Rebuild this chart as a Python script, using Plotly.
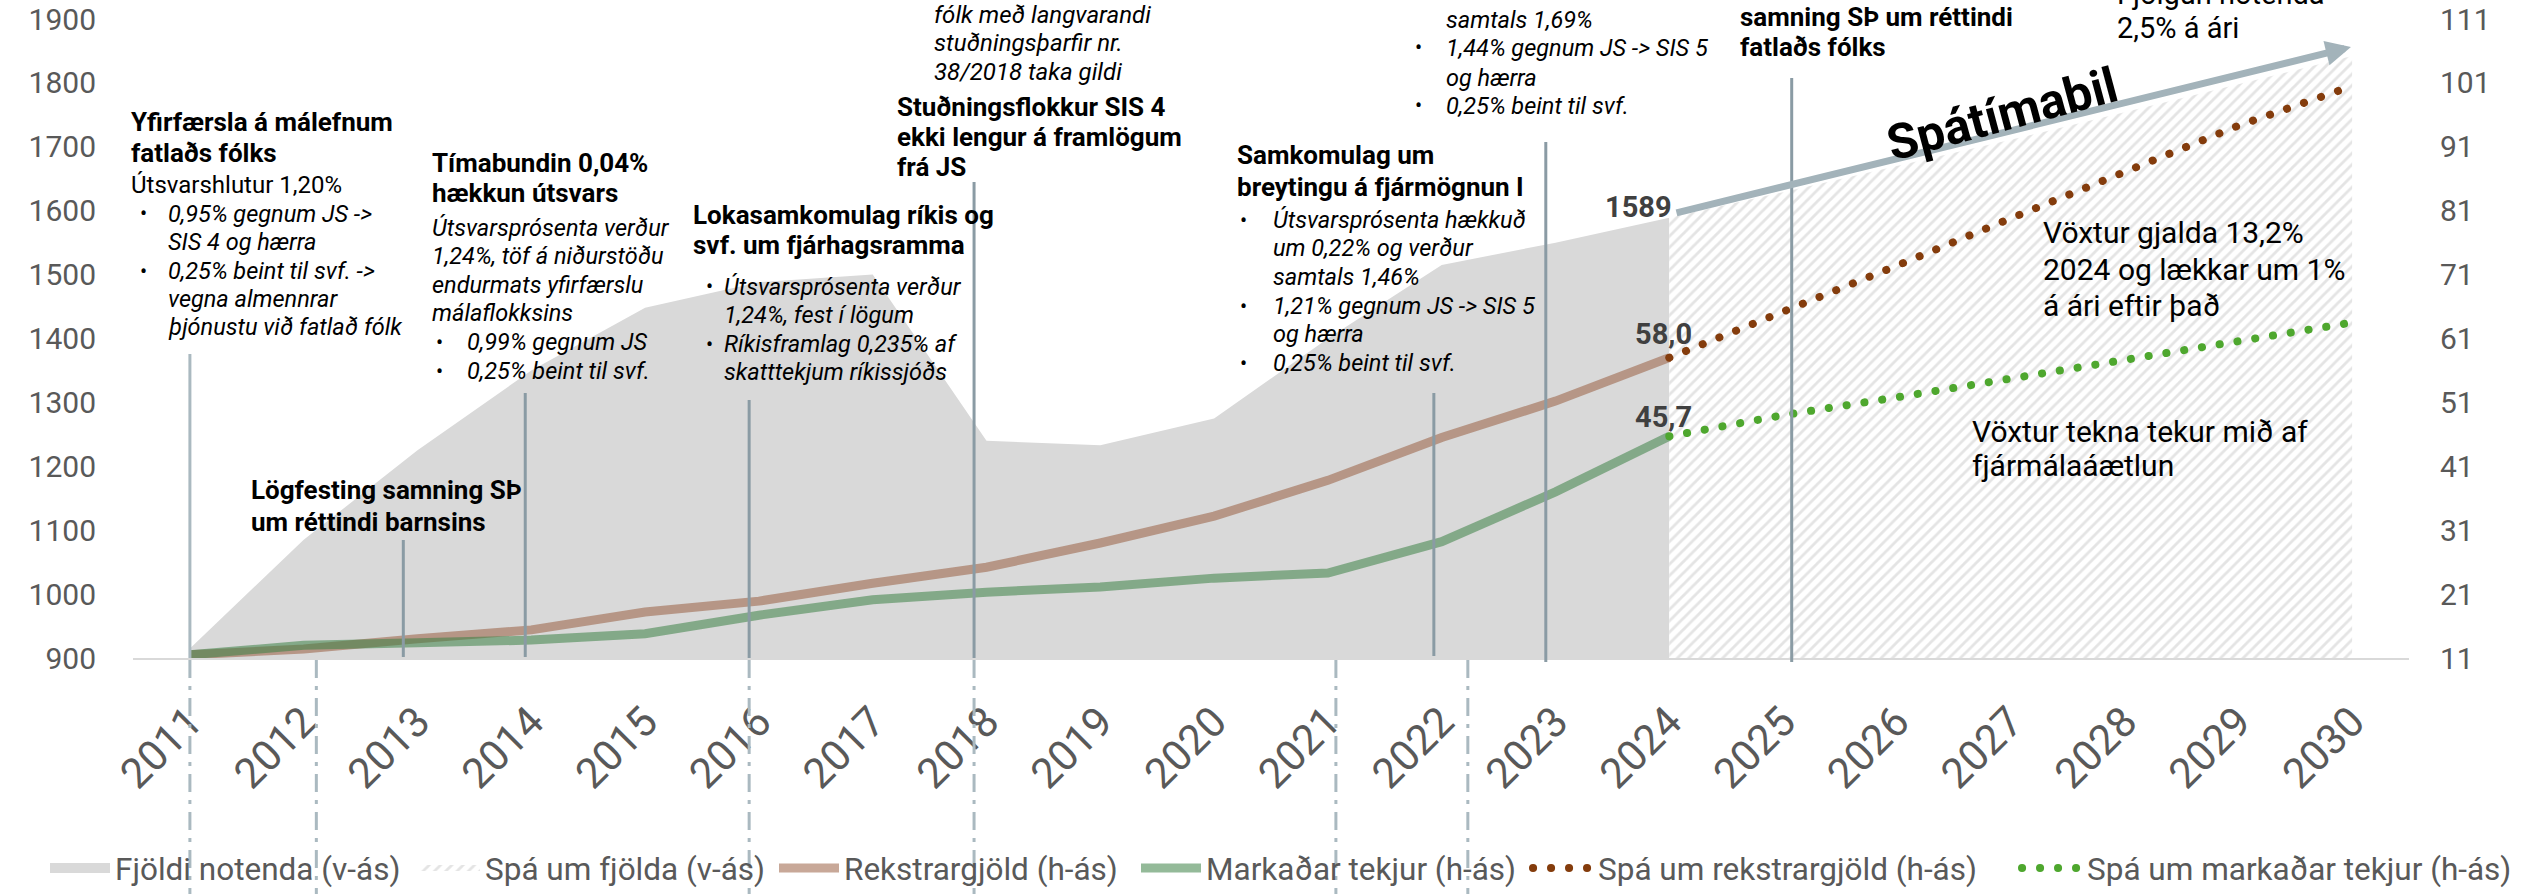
import plotly.graph_objects as go

# ---------------- data ----------------
years_hist = [2011, 2012, 2013, 2014, 2015, 2016, 2017, 2018, 2019, 2020, 2021, 2022, 2023, 2024]
years_fc = [2024, 2025, 2026, 2027, 2028, 2029, 2030]
years_all = list(range(2011, 2031))

users = [915, 1085, 1225, 1350, 1448, 1488, 1500, 1240, 1233, 1275, 1400, 1515, 1550, 1589]
users_fc = [1589, 1629, 1670, 1711, 1754, 1798, 1842]

expenses = [11.5, 12.4, 14.0, 15.4, 18.2, 19.9, 22.7, 25.2, 29.0, 33.2, 38.8, 45.5, 51.2, 58.0]
revenue = [11.5, 13.0, 13.4, 13.8, 14.8, 17.7, 20.1, 21.3, 22.1, 23.5, 24.3, 29.2, 37.0, 45.7]
expenses_fc = [58.0, 65.1, 72.4, 79.8, 87.1, 94.3, 100.5]
revenue_fc = [45.7, 49.0, 51.8, 54.7, 57.7, 60.6, 63.5]

left_ticks = [900, 1000, 1100, 1200, 1300, 1400, 1500, 1600, 1700, 1800, 1900]
right_ticks = [11, 21, 31, 41, 51, 61, 71, 81, 91, 101, 111]

# ---------------- layout constants ----------------
W, H = 2521, 894
PL, PR, PT, PB = 133, 2409, 19, 658
FONT = "Roboto, 'Liberation Sans', Arial, sans-serif"
GRAY_TXT = "#595959"
SOLID = "#8A9BA4"
LIGHT = "#AAB9C0"
AREA_GRAY = "#D9D9D9"


def px(x):
    return (x - PL) / (PR - PL)


def py(y):
    return (PB - y) / (PB - PT)


fig = go.Figure()

fig.add_trace(go.Scatter(
    x=years_hist, y=users, name="Fjöldi notenda (v-ás)", mode="none",
    fill="tozeroy", fillcolor=AREA_GRAY, yaxis="y", hoverinfo="skip", showlegend=False))
# legend entry for the area (box-like symbol)
fig.add_trace(go.Scatter(
    x=[None], y=[None], name="Fjöldi notenda (v-ás)", mode="lines",
    line=dict(color=AREA_GRAY, width=18), yaxis="y", hoverinfo="skip", legend="legend"))
fig.add_trace(go.Scatter(
    x=years_fc, y=users_fc, name="Spá um fjölda (v-ás)", mode="none",
    fill="tozeroy", fillcolor="white",
    fillpattern=dict(shape="/", fgcolor="#C9C9C9", bgcolor="white", size=8, solidity=0.35),
    yaxis="y", hoverinfo="skip", legend="legend2"))
fig.add_trace(go.Scatter(
    x=years_hist, y=expenses, name="Rekstrargjöld (h-ás)", mode="lines",
    line=dict(color="rgba(150,88,58,0.52)", width=9), yaxis="y2", hoverinfo="skip", legend="legend3"))
fig.add_trace(go.Scatter(
    x=years_hist, y=revenue, name="Markaðar tekjur (h-ás)", mode="lines",
    line=dict(color="rgba(60,130,70,0.55)", width=9), yaxis="y2", hoverinfo="skip", legend="legend4"))
fig.add_trace(go.Scatter(
    x=years_fc, y=expenses_fc, name="Spá um rekstrargjöld (h-ás)", mode="lines",
    line=dict(color="#843C0C", width=8, dash="8px,10px"), yaxis="y2", hoverinfo="skip", legend="legend5"))
fig.add_trace(go.Scatter(
    x=years_fc, y=revenue_fc, name="Spá um markaðar tekjur (h-ás)", mode="lines",
    line=dict(color="#4EA72E", width=8, dash="8px,10px"), yaxis="y2", hoverinfo="skip", legend="legend6"))

# ---------------- event lines ----------------
def year_at(xpix):
    return 2011 + (xpix - 186.5) / 113.85

solid_lines = [  # (x pixel, top pixel, bottom pixel, colour)
    (186.5, 354, 658, LIGHT),
    (400, 540, 657, SOLID),
    (522, 393, 657, SOLID),
    (746, 400, 658, SOLID),
    (971, 182, 658, SOLID),
    (1431, 393, 656, SOLID),
    (1543, 142, 662, SOLID),
    (1789, 78, 662, SOLID),
]
dashed_lines = [186.5, 313, 746, 971, 1333, 1465]

for xp, top, bot, col in solid_lines:
    fig.add_shape(type="line", xref="x", yref="paper", x0=year_at(xp), x1=year_at(xp),
                  y0=py(bot), y1=py(top), line=dict(color=col, width=3), layer="above")
for xp in dashed_lines:
    fig.add_shape(type="line", xref="x", yref="paper", x0=year_at(xp), x1=year_at(xp),
                  y0=py(660), y1=py(900), line=dict(color=LIGHT, width=3, dash="18px,8px,4px,8px"),
                  layer="above")

# ---------------- text helpers ----------------
def line_txt(s, x, y, size, kind="r", color="black"):
    if kind == "b":
        s = "<b>" + s + "</b>"
    elif kind == "i":
        s = "<i>" + s + "</i>"
    fig.add_annotation(text=s, x=px(x), y=py(y), xref="paper", yref="paper",
                       xanchor="left", yanchor="middle", showarrow=False,
                       font=dict(family=FONT, size=size, color=color))


def block(lines, x, size, kind):
    for s, y in lines:
        line_txt(s, x, y, size, kind)


IS = 23.5  # italic size
TS = 26    # title size


def bullets(items, xb, xt, size=IS):
    for b, s, y in items:
        if b:
            line_txt("•", xb, y, size * 0.9, "r")
        line_txt(s, xt, y, size, "i")

# A
block([("Yfirfærsla á málefnum", 122), ("fatlaðs fólks", 153)], 129, TS, "b")
line_txt("Útsvarshlutur 1,20%", 129, 185, 24, "r")
bullets([(True, "0,95% gegnum JS ->", 214), (False, "SIS 4 og hærra", 242),
         (True, "0,25% beint til svf. ->", 271), (False, "vegna almennrar", 299),
         (False, "þjónustu við fatlað fólk", 327)], 138, 166)
# B
block([("Tímabundin 0,04%", 163), ("hækkun útsvars", 193)], 430, TS, "b")
block([("Útsvarsprósenta verður", 228), ("1,24%, töf á niðurstöðu", 256),
       ("endurmats yfirfærslu", 285), ("málaflokksins", 313)], 430, IS, "i")
bullets([(True, "0,99% gegnum JS", 342), (True, "0,25% beint til svf.", 371)], 434, 465)
# C
block([("Lokasamkomulag ríkis og", 215), ("svf. um fjárhagsramma", 245)], 691, TS, "b")
bullets([(True, "Útsvarsprósenta verður", 287), (False, "1,24%, fest í lögum", 315),
         (True, "Ríkisframlag 0,235% af", 344), (False, "skatttekjum ríkissjóðs", 372)], 704, 722)
# D
block([("Lögfesting samning SÞ", 490), ("um réttindi barnsins", 522)], 249, TS, "b")
# E
block([("fólk með langvarandi", 15), ("stuðningsþarfir nr.", 43), ("38/2018 taka gildi", 72)], 932, 24, "i")
# F
block([("Stuðningsflokkur SIS 4", 107), ("ekki lengur á framlögum", 137), ("frá JS", 167)], 895, TS, "b")
# G
block([("Samkomulag um", 155), ("breytingu á fjármögnun I", 187)], 1235, TS, "b")
bullets([(True, "Útsvarsprósenta hækkuð", 220), (False, "um 0,22% og verður", 248),
         (False, "samtals 1,46%", 277), (True, "1,21% gegnum JS -> SIS 5", 306),
         (False, "og hærra", 334), (True, "0,25% beint til svf.", 363)], 1238, 1271)
# H
bullets([(False, "samtals 1,69%", 20), (True, "1,44% gegnum JS -> SIS 5", 48),
         (False, "og hærra", 78), (True, "0,25% beint til svf.", 106)], 1413, 1444)
# I
block([("samning SÞ um réttindi", 17), ("fatlaðs fólks", 47)], 1738, TS, "b")
# J
block([("Fjölgun notenda", -6), ("2,5% á ári", 28)], 2115, 29, "r")
# K
block([("Vöxtur gjalda 13,2%", 233), ("2024 og lækkar um 1%", 269), ("á ári eftir það", 305)], 2041, 30, "r")
# L
block([("Vöxtur tekna tekur mið af", 431), ("fjármálaáætlun", 465)], 1970, 30, "r")

# Forecast arrow + label
fig.add_annotation(x=2029.99, y=1856, ax=2024.05, ay=1596, xref="x", yref="y",
                   axref="x", ayref="y", text="", showarrow=True, arrowhead=2,
                   arrowsize=0.72, arrowwidth=7, arrowcolor="#A3B3BA", standoff=0, startstandoff=0)
fig.add_annotation(text="<b>Spátímabil</b>", x=px(2002), y=py(114), xref="paper", yref="paper",
                   showarrow=False, textangle=-15, xanchor="center", yanchor="middle",
                   font=dict(family=FONT, size=49, color="black"))

# Data labels
def fmt(v):
    return f"{v:.1f}".replace(".", ",")

fig.add_annotation(text=f"<b>{users[-1]}</b>", x=years_hist[-1], y=users[-1], xref="x", yref="y",
                   xanchor="right", yanchor="middle", xshift=5, yshift=11, showarrow=False,
                   font=dict(family=FONT, size=29, color="#404040"))
fig.add_annotation(text=f"<b>{fmt(expenses[-1])}</b>", x=years_hist[-1], y=expenses[-1], xref="x", yref="y2",
                   xanchor="right", yanchor="middle", xshift=25, yshift=24, showarrow=False,
                   font=dict(family=FONT, size=29, color="#404040"))
fig.add_annotation(text=f"<b>{fmt(revenue[-1])}</b>", x=years_hist[-1], y=revenue[-1], xref="x", yref="y2",
                   xanchor="right", yanchor="middle", xshift=25, yshift=19, showarrow=False,
                   font=dict(family=FONT, size=29, color="#404040"))

# one legend box per entry so each entry sits where the reference has it
legend_x = [52, 422, 781, 1143, 1535, 2024]
legend_names = ["legend", "legend2", "legend3", "legend4", "legend5", "legend6"]
legends = {}
for name, xs in zip(legend_names, legend_x):
    legends[name] = dict(orientation="h", x=px(xs - 7), xanchor="left", y=py(868), yanchor="middle",
                         font=dict(family=FONT, size=31.5, color=GRAY_TXT), bgcolor="rgba(0,0,0,0)",
                         itemwidth=60)

fig.update_layout(
    width=W, height=H, autosize=False,
    margin=dict(l=PL, r=W - PR, t=PT, b=H - PB, pad=0, autoexpand=False),
    paper_bgcolor="white", plot_bgcolor="white",
    font=dict(family=FONT, color=GRAY_TXT),
    xaxis=dict(range=[2010.5, 2030.5], tickmode="array", tickvals=years_all,
               ticktext=[str(y) for y in years_all], tickangle=-45,
               tickfont=dict(size=42, color=GRAY_TXT), showline=True, linecolor="#D9D9D9",
               linewidth=2, showgrid=False, zeroline=False, ticks="", ticklabelstandoff=20,
               automargin=False),
    yaxis=dict(range=[900, 1900], tickmode="array", tickvals=left_ticks,
               tickfont=dict(size=30, color=GRAY_TXT), showgrid=False, zeroline=False,
               showline=False, ticks="", ticklabelstandoff=36, automargin=False),
    yaxis2=dict(range=[11, 111], tickmode="array", tickvals=right_ticks, overlaying="y", side="right",
                tickfont=dict(size=30, color=GRAY_TXT), showgrid=False, zeroline=False,
                showline=False, ticks="", ticklabelstandoff=30, automargin=False),
    showlegend=True,
    **legends,
)

post = """
document.body.style.margin='0';
document.body.style.overflow='hidden';
var fixDots = function(){
  document.querySelectorAll('path').forEach(function(p){
    var d = (p.style.strokeDasharray||'').replace(/\\s/g,'');
    if(d==='8px,10px' || d==='0.1px,17.9px'){
      p.style.strokeLinecap='round';
      p.style.strokeDasharray='0.1px,17.9px';
    }
  });
};
fixDots();
var gd=document.querySelector('.plotly-graph-div');
if(gd && gd.on){gd.on('plotly_afterplot', fixDots);}
"""

fig.write_html("out.html", post_script=post, config={"displayModeBar": False})
